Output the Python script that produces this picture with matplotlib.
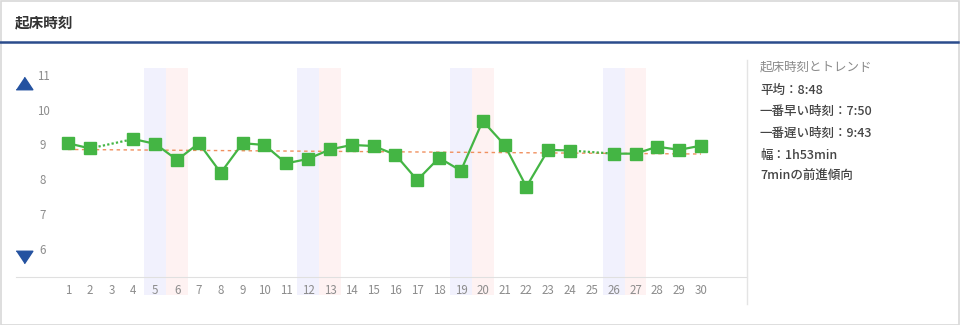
import numpy as np
import matplotlib
matplotlib.use("Agg")
import matplotlib.pyplot as plt
from matplotlib.lines import Line2D
from matplotlib.patches import Rectangle

plt.rcParams['font.family'] = ['Noto Sans CJK JP', 'DejaVu Sans']

# wake-up time per day (hours, NaN = no record)
days = list(range(1, 31))
wake = [9.08, 8.93, np.nan, 9.20, 9.06, 8.60, 9.08, 8.23, 9.08, 9.03,
        8.50, 8.63, 8.90, 9.03, 9.00, 8.75, 8.02, 8.66, 8.29, 9.72,
        9.03, 7.83, 8.89, 8.87, np.nan, 8.78, 8.78, 8.98, 8.89, 9.01]
trend = [8.90, 8.77]          # trend line at day 1 and day 30
saturdays = [5, 12, 19, 26]
sundays = [6, 13, 20, 27]
yticks = [6, 7, 8, 9, 10, 11]

title = "起床時刻"
side_head = "起床時刻とトレンド"
side_lines = ["平均：8:48", "一番早い時刻：7:50", "一番遅い時刻：9:43",
              "幅：1h53min", "7minの前進傾向"]

GREEN = '#44b544'
W, H = 960, 325

fig = plt.figure(figsize=(9.6, 3.25), dpi=100)
fig.patch.set_facecolor('white')

# frame and header
fig.add_artist(Rectangle((0.5 / W, 0.5 / H), 1 - 2 / W, 1 - 1.5 / H, transform=fig.transFigure,
                         fill=False, edgecolor='#d8d8d8', lw=1.2))
fig.add_artist(Line2D([0, 1 - 2 / W], [1 - 42 / H] * 2, transform=fig.transFigure,
                      color='#2b4c8c', lw=1.8))
fig.text(15 / W, 1 - 22 / H, title, fontsize=10.5, color='#333333', va='center',
         ha='left', fontweight='bold')
# divider between chart and summary
fig.add_artist(Line2D([747 / W] * 2, [1 - 60 / H, 1 - 304 / H], transform=fig.transFigure,
                      color='#e4e4e4', lw=1))

ax = fig.add_axes([16 / W, (H - 277) / H, (747 - 16) / W, (277 - 68) / H])
ax.set_xlim(1 - 52 / 21.83, 30 + 46 / 21.83)
ax.set_ylim(9 - 131 / 34.8, 9 + 78 / 34.8)

for d in saturdays:
    ax.axvspan(d - 0.5, d + 0.5, ymin=-0.085, ymax=1, color='#f1f1fd', lw=0,
               clip_on=False, zorder=0)
for d in sundays:
    ax.axvspan(d - 0.5, d + 0.5, ymin=-0.085, ymax=1, color='#fef2f2', lw=0,
               clip_on=False, zorder=0)

ax.plot([days[0], days[-1]], trend, color='#f0905f', lw=1, ls=(0, (2.5, 2.5)), zorder=2)

ax.plot(days, wake, color=GREEN, lw=1.6, marker='s', ms=8.5, mfc=GREEN, mec=GREEN, zorder=3)

# dotted link over missing days
vals = np.array(wake)
for i, v in enumerate(vals):
    if np.isnan(v):
        ax.plot([days[i - 1], days[i + 1]], [vals[i - 1], vals[i + 1]], color=GREEN,
                lw=1.6, ls=(0, (1, 1)), zorder=2.5)

for spine in ['top', 'right', 'left']:
    ax.spines[spine].set_visible(False)
ax.spines['bottom'].set_color('#e0e0e0')
ax.set_yticks([])
ax.set_xticks(days)
ax.set_xticklabels([str(d) for d in days])
ax.tick_params(axis='x', length=0, pad=5, labelsize=8.3, labelcolor='#8c8c8c')
for t in yticks:
    ax.text(0.037, t, str(t), transform=ax.get_yaxis_transform(), ha='center',
            va='center', fontsize=8.3, color='#8c8c8c')

tri = [(-1, -0.75), (1, -0.75), (0, 0.75)]
ax.plot([0.0103], [0.93], marker=tri, ms=12, color='#2452a0', transform=ax.transAxes,
        clip_on=False)
ax.plot([0.0103], [0.096], marker=[(x, -y) for x, y in tri], ms=12, color='#2452a0',
        transform=ax.transAxes, clip_on=False)

fig.text(760 / W, 1 - 67 / H, side_head, fontsize=9, color='#8a8a8a', va='center')
ys = [90, 111.5, 133, 155, 176.5]
for y, s in zip(ys, side_lines):
    fig.text(760 / W, 1 - y / H, s, fontsize=9, color='#444444', va='center',
             fontweight='medium')

fig.savefig('out.png', dpi=100, facecolor='white')
